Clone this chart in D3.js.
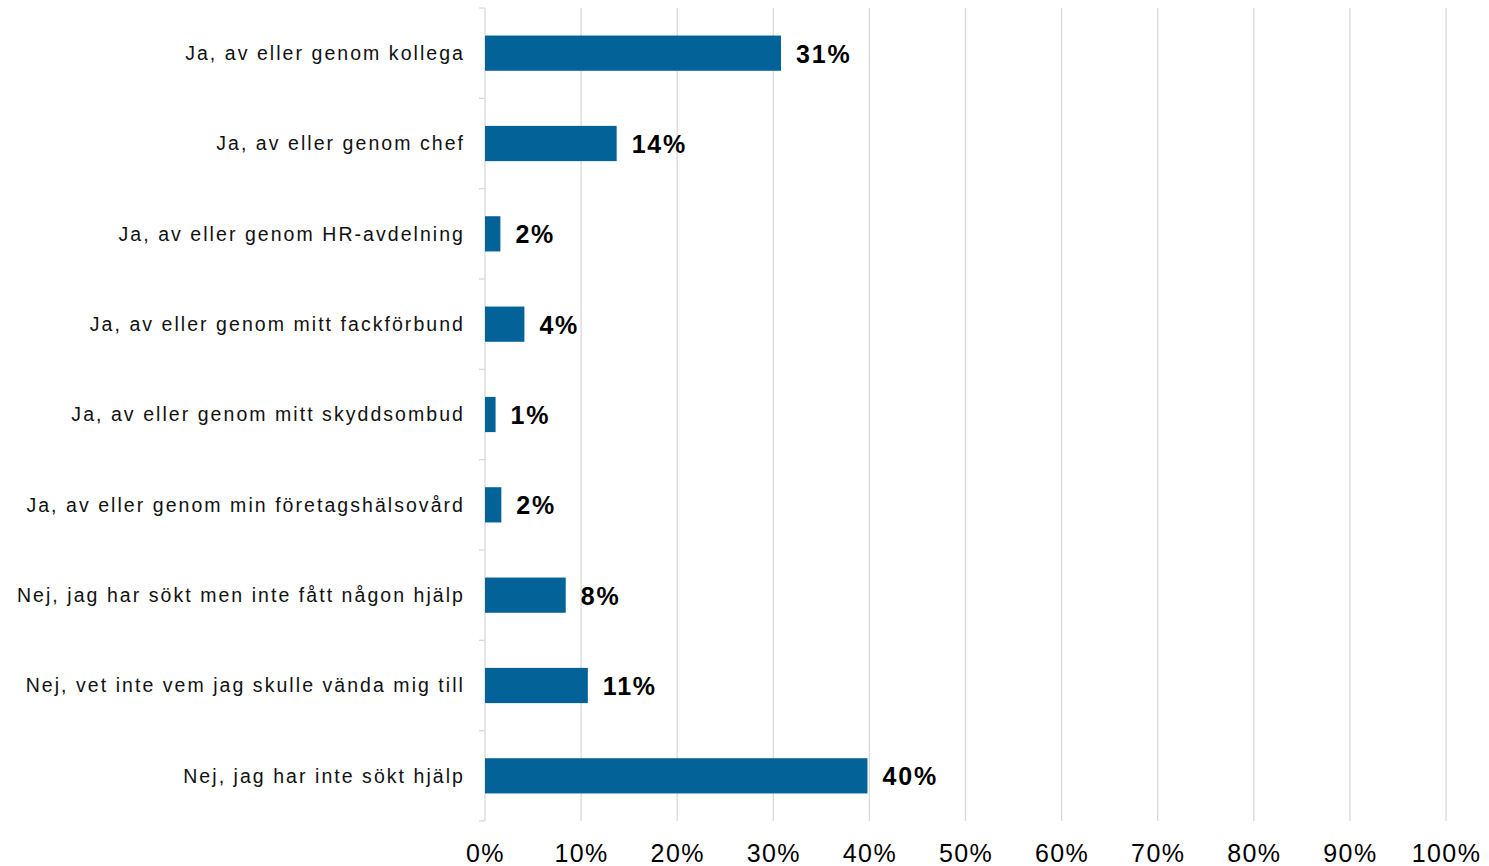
<!DOCTYPE html>
<html>
<head>
<meta charset="utf-8">
<script src="https://cdn.jsdelivr.net/npm/d3@7"></script>
<style>
  html, body { margin: 0; padding: 0; background: #fff; }
  svg { display: block; font-family: "Liberation Sans", Arial, sans-serif; }
</style>
</head>
<body>
<svg id="chart" width="1489" height="866"></svg>
<script>
// Survey answers: where help was received
const categories = [
  "Ja, av eller genom kollega",
  "Ja, av eller genom chef",
  "Ja, av eller genom HR-avdelning",
  "Ja, av eller genom mitt fackförbund",
  "Ja, av eller genom mitt skyddsombud",
  "Ja, av eller genom min företagshälsovård",
  "Nej, jag har sökt men inte fått någon hjälp",
  "Nej, vet inte vem jag skulle vända mig till",
  "Nej, jag har inte sökt hjälp"
];
const shares = [0.308, 0.137, 0.016, 0.041, 0.011, 0.017, 0.084, 0.107, 0.398];
const xTicks = [0, 0.1, 0.2, 0.3, 0.4, 0.5, 0.6, 0.7, 0.8, 0.9, 1.0];

const svg = d3.select("#chart");
const margin = { top: 8, right: 43, bottom: 45, left: 485 };
const width = 1489 - margin.left - margin.right;
const height = 866 - margin.top - margin.bottom;

const g = svg.append("g").attr("transform", `translate(${margin.left},${margin.top})`);

const x = d3.scaleLinear().domain([0, 1]).range([0, width]);
const y = d3.scaleBand().domain(categories).range([0, height]).paddingInner(0.61).paddingOuter(0.305);

// vertical gridlines
g.append("g")
  .selectAll("line")
  .data(xTicks.slice(1))
  .join("line")
  .attr("x1", d => x(d)).attr("x2", d => x(d))
  .attr("y1", 0).attr("y2", height)
  .attr("stroke", "#d9d9d9").attr("stroke-width", 1.3);

// x axis labels
const xAxis = g.append("g")
  .attr("transform", `translate(0,${height})`)
  .call(d3.axisBottom(x).tickValues(xTicks).tickFormat(d3.format(".0%")).tickSize(0).tickPadding(23));
xAxis.select(".domain").remove();
xAxis.selectAll("text")
  .attr("fill", "#000")
  .style("font-size", "25px")
  .style("letter-spacing", "1.4px");

// category axis with tick marks at band boundaries
const bounds = categories.map(c => y(c) - y.step() * y.paddingInner() / 2);
bounds.push(height);
g.append("g")
  .selectAll("line")
  .data(bounds)
  .join("line")
  .attr("x1", -6).attr("x2", 0)
  .attr("y1", d => d).attr("y2", d => d)
  .attr("stroke", "#d9d9d9").attr("stroke-width", 1.3);
g.append("line")
  .attr("x1", 0).attr("x2", 0).attr("y1", 0).attr("y2", height)
  .attr("stroke", "#d9d9d9").attr("stroke-width", 1.3);

g.append("g")
  .selectAll("text")
  .data(categories)
  .join("text")
  .attr("x", -20)
  .attr("y", d => y(d) + y.bandwidth() / 2)
  .attr("dy", "0.35em")
  .attr("text-anchor", "end")
  .attr("fill", "#111")
  .style("font-size", "19.5px")
  .style("letter-spacing", "2.05px")
  .text(d => d);

// bars
g.append("g")
  .selectAll("rect")
  .data(shares)
  .join("rect")
  .attr("x", 0)
  .attr("y", (d, i) => y(categories[i]))
  .attr("width", d => x(d))
  .attr("height", y.bandwidth())
  .attr("fill", "#036399");

// value labels
g.append("g")
  .selectAll("text")
  .data(shares)
  .join("text")
  .attr("x", d => x(d) + 15)
  .attr("y", (d, i) => y(categories[i]) + y.bandwidth() / 2)
  .attr("dy", "0.38em")
  .attr("fill", "#000")
  .style("font-size", "25px")
  .style("font-weight", "bold")
  .style("letter-spacing", "1.8px")
  .text(d => d3.format(".0%")(d));
</script>
</body>
</html>
